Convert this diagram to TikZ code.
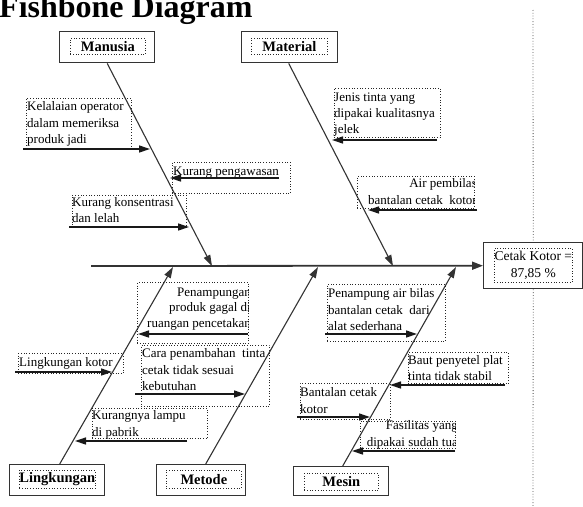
\documentclass[tikz,border=0pt]{standalone}
\usepackage{fontspec}
\setmainfont{Liberation Serif}
\usetikzlibrary{arrows.meta}
\begin{document}
\begin{tikzpicture}[x=1pt,y=-1pt,
  dbox/.style={draw=black!85, dotted, line width=0.7pt, inner sep=0pt, anchor=north west},
  cbox/.style={draw=black!80, line width=1.4pt, inner sep=0pt, anchor=north west},
  ibox/.style={draw=black!85, dotted, line width=0.7pt, inner sep=0pt, anchor=north west, font=\bfseries\fontsize{14.5}{17}\selectfont},
  txt/.style={inner sep=0pt, font=\fontsize{13}{16.5}\selectfont, align=left, anchor=north west},
  txtr/.style={inner sep=0pt, font=\fontsize{13}{16.5}\selectfont, align=right, anchor=north east},
  bone/.style={draw=black!80, line width=1.1pt, -{Triangle[length=11pt,width=7pt]}},
  sub/.style={draw=black!90, line width=1.3pt, -{Triangle[length=11pt,width=7pt]}},
  spine/.style={draw=black!80, line width=1.8pt, -{Triangle[length=11pt,width=8pt]}},
  vline/.style={draw=black!70, dotted, line width=0.8pt},
]
\useasboundingbox (0,0) rectangle (583,506);

% title
\node[font=\bfseries\fontsize{32}{32}\selectfont, anchor=base west, inner sep=0pt] (title) at (-1,17) {Fishbone Diagram};

% category boxes
\node[cbox, minimum width=95pt, minimum height=31pt] (manusia) at (59,31) {};
\node[ibox, minimum width=75pt, minimum height=16pt] (manusiaT) at (70,38) {Manusia};
\node[cbox, minimum width=96pt, minimum height=31pt] (material) at (241,31) {};
\node[ibox, minimum width=76pt, minimum height=16pt] (materialT) at (251,38) {Material};
\node[cbox, minimum width=95pt, minimum height=31pt] (lingk) at (9,464) {};
\node[ibox, minimum width=76pt, minimum height=18pt] (lingkT) at (19,470) {Lingkungan};
\node[cbox, minimum width=89pt, minimum height=31pt] (metode) at (156,464) {};
\node[ibox, minimum width=75pt, minimum height=18pt] (metodeT) at (166,470) {Metode};
\node[cbox, minimum width=95pt, minimum height=29pt] (mesin) at (293,466) {};
\node[ibox, minimum width=74pt, minimum height=17pt] (mesinT) at (304,473) {Mesin};
\node[cbox, minimum width=99pt, minimum height=46pt] (cetak) at (483,242) {};
\node[dbox, minimum width=78pt, minimum height=34pt, align=center, font=\fontsize{13.5}{17.5}\selectfont] (cetakT) at (494,248) {Cetak Kotor =\\87,85 \%};

% dotted vertical line
\coordinate (vt) at (533,10);
\coordinate (vb) at (533,506);
\draw[vline] (vt) -- (cetak.north);
\draw[vline] (cetak.south) -- (vb);

% spine
\coordinate (sp0) at (91,266);
\draw[spine] (sp0) -- (cetak.west);

% bones
\coordinate (sM) at (212,266);
\coordinate (sMa) at (393,266);
\coordinate (sL) at (173,267);
\coordinate (sMe) at (318,267);
\coordinate (sMs) at (456,267);
\draw[bone] (manusia.south) -- (sM);
\draw[bone] ([xshift=-1pt]material.south) -- (sMa);
\draw[bone] ([xshift=2.5pt]lingk.north) -- (sL);
\draw[bone] ([xshift=4.5pt]metode.north) -- (sMe);
\draw[bone] ([xshift=1.5pt]mesin.north) -- (sMs);

% cause boxes
\node[dbox, minimum width=105pt, minimum height=51pt] (k1) at (26,98) {};
\node[txt] (k1t) at (27,101.5) {Kelalaian operator\\dalam memeriksa\\produk jadi};

\node[dbox, minimum width=118pt, minimum height=31pt] (k2) at (172,162) {};
\node[txt] (k2t) at (173,166.5) {Kurang pengawasan};

\node[dbox, minimum width=114pt, minimum height=32pt] (k3) at (72,195) {};
\node[txt, font=\fontsize{13}{16}\selectfont] (k3t) at (72,197.5) {Kurang konsentrasi\\dan lelah};

\node[dbox, minimum width=106pt, minimum height=49pt] (k4) at (334,88) {};
\node[txt, font=\fontsize{13}{16}\selectfont] (k4t) at (334,92.5) {Jenis tinta yang\\dipakai kualitasnya\\jelek};

\node[dbox, minimum width=117pt, minimum height=32pt] (k5) at (357,176) {};
\begin{scope}
\clip ([yshift=6pt]k5.north west) rectangle ([yshift=-6pt]k5.south east);
\node[txtr, font=\fontsize{13}{17}\selectfont] (k5t) at (477,178.5) {Air pembilas\\bantalan cetak\ \ kotor};
\end{scope}

\node[dbox, minimum width=111pt, minimum height=61pt] (k6) at (137,282) {};
\begin{scope}
\clip ([yshift=6pt]k6.north west) rectangle ([yshift=-6pt]k6.south east);
\node[txtr, font=\fontsize{13}{15.5}\selectfont] (k6t) at (251,287.5) {Penampungan\\produk gagal di\\ruangan pencetakan};
\end{scope}

\node[dbox, minimum width=128pt, minimum height=61pt] (k7) at (141,345) {};
\node[txt] (k7t) at (142,348.5) {Cara penambahan\ \ tinta\\cetak tidak sesuai\\kebutuhan};

\node[dbox, minimum width=105pt, minimum height=20pt] (k8) at (18,353) {};
\node[txt] (k8t) at (19,357.5) {Lingkungan kotor};

\node[dbox, minimum width=115pt, minimum height=30pt] (k9) at (92,408) {};
\node[txt] (k9t) at (92,410.5) {Kurangnya lampu\\di pabrik};

\node[dbox, minimum width=118pt, minimum height=57pt] (k10) at (327,284) {};
\node[txt] (k10t) at (328,288.5) {Penampung air bilas\\bantalan cetak\ \ dari\\alat sederhana};

\node[dbox, minimum width=100pt, minimum height=31pt] (k11) at (408,352) {};
\node[txt, font=\fontsize{13}{15.5}\selectfont] (k11t) at (408,355.5) {Baut penyetel plat\\tinta tidak stabil};

\node[dbox, minimum width=90pt, minimum height=36pt] (k12) at (300,383) {};
\node[txt, font=\fontsize{13}{17}\selectfont] (k12t) at (300,387.5) {Bantalan cetak\\kotor};

\node[dbox, minimum width=95pt, minimum height=27pt] (k13) at (360,421) {};
\begin{scope}
\clip ([yshift=6pt]k13.north west) rectangle ([yshift=-6pt]k13.south east);
\node[txtr, font=\fontsize{13}{17}\selectfont] (k13t) at (458,420.5) {Fasilitas yang\\dipakai sudah tua};
\end{scope}

% cause arrows
\coordinate (a1s) at (23,149);  \coordinate (a1e) at (150,149);
\coordinate (a2s) at (279,178); \coordinate (a2e) at (170,178);
\coordinate (a3s) at (69,227);  \coordinate (a3e) at (189,227);
\coordinate (a4s) at (437,140); \coordinate (a4e) at (332,140);
\coordinate (a5s) at (477,210); \coordinate (a5e) at (368,210);
\coordinate (a6s) at (248,334); \coordinate (a6e) at (138,334);
\coordinate (a7s) at (135,394); \coordinate (a7e) at (245,394);
\coordinate (a8s) at (15,372);  \coordinate (a8e) at (112,372);
\coordinate (a9s) at (187,441); \coordinate (a9e) at (75,441);
\coordinate (a10s) at (325,334); \coordinate (a10e) at (417,334);
\coordinate (a11s) at (505,385); \coordinate (a11e) at (390,385);
\coordinate (a12s) at (297,417); \coordinate (a12e) at (370,417);
\coordinate (a13s) at (455,451); \coordinate (a13e) at (352,451);
\foreach \i in {1,...,13}{\draw[sub] (a\i s) -- (a\i e);}
\end{tikzpicture}
\end{document}
